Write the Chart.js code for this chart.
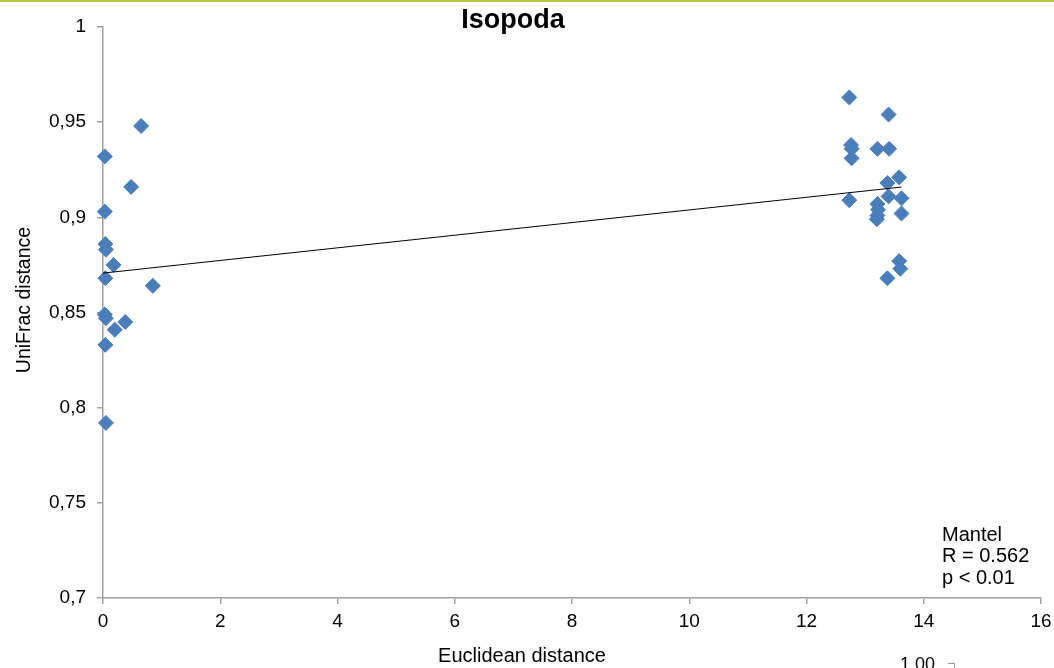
<!DOCTYPE html>
<html>
<head>
<meta charset="utf-8">
<script src="https://cdn.jsdelivr.net/npm/chart.js@4"></script>
<style>
body{margin:0;background:#fff;font-family:"Liberation Sans",Arial,sans-serif}
#wrap{position:relative;width:1054px;height:668px;overflow:hidden;background:#fff}
#topline{position:absolute;left:0;top:0;width:1054px;height:2px;background:#bcc842}
.txt{position:absolute;color:#000;white-space:nowrap}
#title{left:413px;width:200px;top:5.6px;text-align:center;font-weight:bold;font-size:27px;line-height:27px}
#xtitle{left:372px;width:300px;top:644.7px;text-align:center;font-size:20px;line-height:20px}
#ytitle{left:-76.7px;top:290px;width:200px;text-align:center;font-size:19.5px;line-height:20px;transform:rotate(-90deg)}
#mantel{left:942px;top:523.6px;font-size:20px;line-height:21.5px}
#frag{left:900px;top:654.6px;font-size:18px;line-height:18px}
#fragtick{position:absolute;left:948px;top:663px;width:6px;height:10px;border-top:1px solid #999;border-right:1px solid #999}
</style>
</head>
<body>
<div id="wrap">
<canvas id="chart" width="1054" height="668"></canvas>
<div id="topline"></div>
<div class="txt" id="title">Isopoda</div>
<div class="txt" id="xtitle">Euclidean distance</div>
<div class="txt" id="ytitle">UniFrac distance</div>
<div class="txt" id="mantel">Mantel<br>R = 0.562<br>p &lt; 0.01</div>
<div class="txt" id="frag">1.00</div>
<div id="fragtick"></div>
</div>
<script>
// Euclidean distance vs UniFrac distance
let euclid=[0.03,0.65,0.48,0.03,0.04,0.05,0.18,0.04,0.85,0.03,0.05,0.38,0.20,0.04,0.05,
12.73,13.40,12.76,12.77,12.77,13.21,13.41,13.58,13.38,13.40,13.62,12.73,13.21,13.22,13.21,13.20,13.62,13.58,13.60,13.38]
let unifrac=[0.932,0.948,0.916,0.903,0.886,0.883,0.875,0.868,0.864,0.849,0.847,0.845,0.841,0.833,0.792,
0.963,0.954,0.938,0.936,0.931,0.936,0.936,0.921,0.918,0.911,0.910,0.909,0.907,0.904,0.901,0.899,0.902,0.877,0.873,0.868]

// trend line end points
let trendX=[0,13.62]
let trendY=[0.8707,0.9159]

let pts=euclid.map((x,i)=>({x:x,y:unifrac[i]}))
let trend=trendX.map((x,i)=>({x:x,y:trendY[i]}))

const axisColor='#a0a0a0'
const tickFont={family:'"Liberation Sans", Arial, sans-serif',size:19}

const ctx=document.getElementById("chart")

new Chart(ctx,{
type:'scatter',
data:{
datasets:[{
data:pts,
pointStyle:'rectRot',
pointRadius:7.5,
pointHoverRadius:7.5,
backgroundColor:'#4a7ebb',
borderColor:'#4a7ebb',
borderWidth:1,
clip:false,
order:2
},{
type:'line',
data:trend,
showLine:true,
borderColor:'#000',
borderWidth:1,
pointRadius:0,
fill:false,
clip:false,
order:1
}]
},
options:{
responsive:false,
animation:false,
events:[],
layout:{padding:{left:0,right:13,top:27,bottom:0}},
plugins:{legend:{display:false},title:{display:false},tooltip:{enabled:false}},
scales:{
x:{
type:'linear',
min:0,max:16,
ticks:{stepSize:2,color:'#000',font:tickFont,padding:6,maxRotation:0},
grid:{drawOnChartArea:false,color:axisColor,tickLength:6,lineWidth:1.5},
border:{color:axisColor,width:1.5},
afterFit:function(s){s.height=70;s.paddingRight=0;s.paddingLeft=0}
},
y:{
min:0.7,max:1,
ticks:{stepSize:0.05,color:'#000',font:tickFont,padding:11,
callback:v=>String(+v.toFixed(2)).replace('.',',')},
grid:{drawOnChartArea:false,color:axisColor,tickLength:6,lineWidth:1.5},
border:{color:axisColor,width:1.5},
afterFit:function(s){s.width=103;s.paddingTop=0;s.paddingBottom=0}
}
}
}
})
</script>
</body>
</html>
